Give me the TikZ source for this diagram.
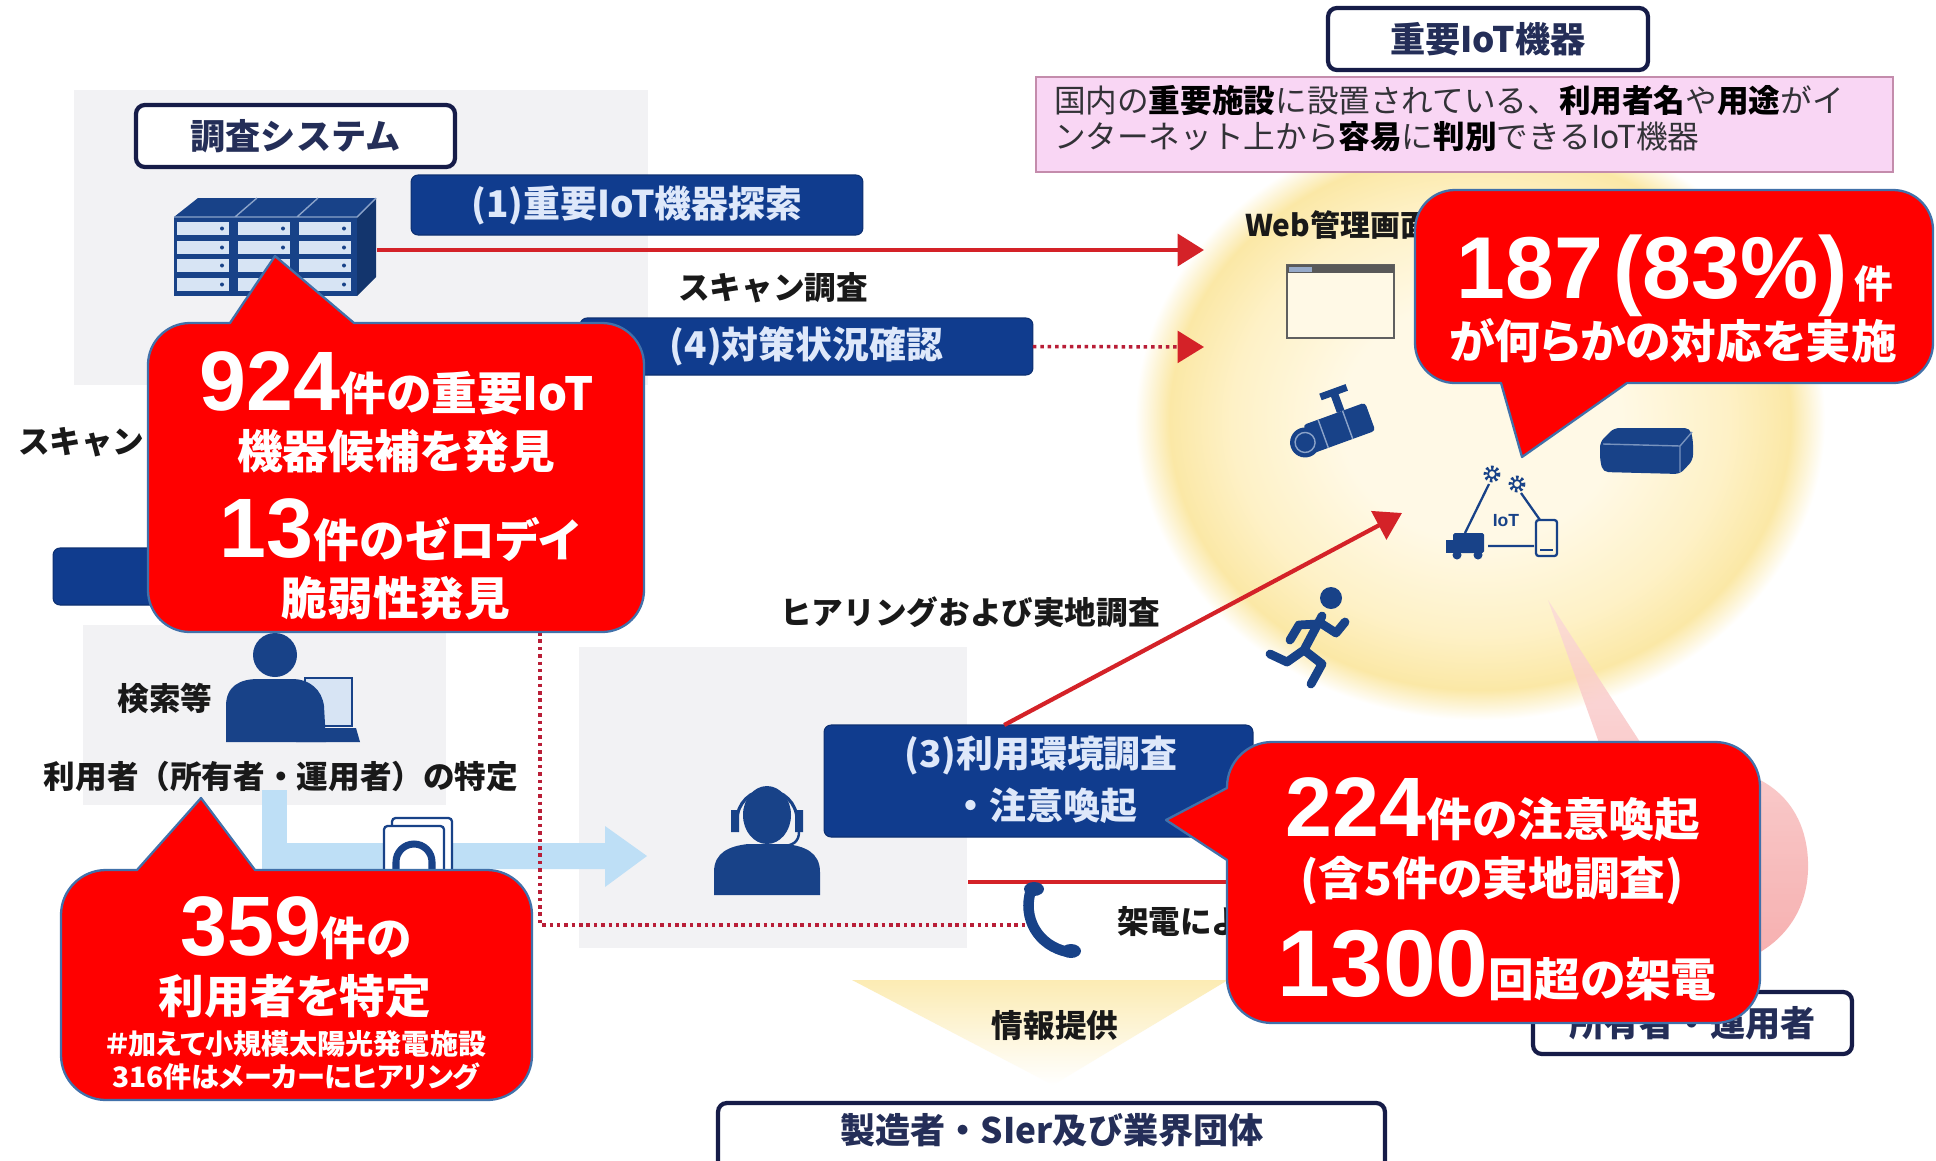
\documentclass[tikz,border=0pt]{standalone}
\usepackage{fontspec}
\usetikzlibrary{arrows.meta,calc}
\newfontfamily\jp{Noto Sans CJK JP}
\newfontfamily\jpp[RawFeature=+palt]{Noto Sans CJK JP}
\newfontfamily\lat{Liberation Sans}
\newcommand\setfs[1]{\fontsize{#1}{#1}\selectfont}

\definecolor{iconblue}{RGB}{24,66,136}
\definecolor{drawerblue}{RGB}{215,228,244}
\definecolor{boxblue}{RGB}{16,60,142}
\definecolor{boxtext}{RGB}{222,232,250}
\definecolor{navyline}{RGB}{22,28,72}
\definecolor{navytext}{RGB}{36,46,88}
\definecolor{labeltext}{RGB}{25,25,25}
\definecolor{desctext}{RGB}{50,50,55}
\definecolor{panelgray}{RGB}{242,242,244}
\definecolor{callred}{RGB}{255,0,0}
\definecolor{callline}{RGB}{65,113,170}
\definecolor{arrowred}{RGB}{212,34,40}
\definecolor{dotred}{RGB}{185,30,55}
\definecolor{skyblue}{RGB}{190,223,246}
\definecolor{pinkfill}{RGB}{249,214,244}
\definecolor{pinkline}{RGB}{196,140,172}
\definecolor{glowc}{RGB}{255,249,230}
\definecolor{glowm}{RGB}{254,241,198}
\definecolor{glowe}{RGB}{251,232,166}
\definecolor{conered}{RGB}{244,150,150}

\pgfdeclareradialshading{glow}{\pgfpoint{0bp}{0bp}}{color(0bp)=(glowc); color(10bp)=(glowc); color(18bp)=(glowm); color(22.5bp)=(glowe); color(25bp)=(white); color(50bp)=(white)}

\begin{document}
\begin{tikzpicture}[x=0.02cm, y=-0.02cm,
  every node/.style={inner sep=0pt, outer sep=0pt},
  titlebox/.style={draw=navyline, line width=2.4pt, fill=white, rounded corners=5pt,
    font=\jp\bfseries\setfs{20}, text=navytext},
  stagebox/.style={fill=boxblue, draw=boxblue!80!black, line width=0.6pt, rounded corners=4pt,
    font=\jp\bfseries\setfs{21}, text=boxtext},
  stagetext/.style={font=\jp\bfseries\setfs{21}, text=boxtext},
  plain/.style={font=\jp\bfseries\setfs{18}, text=labeltext},
  callout/.style={fill=callred, draw=callline, line width=1.3pt, line join=round},
  ctext/.style={text=white, anchor=base},
  redline/.style={draw=arrowred, line width=2.6pt},
  redtip/.style={-{Triangle[length=15pt,width=18pt,color=arrowred]}},
  dotline/.style={draw=dotred, line width=2pt, dash pattern=on 2pt off 2.2pt},
]
\useasboundingbox (0,0) rectangle (1936,1160);
\fill[white] (0,0) rectangle (1936,1160);

% ---------- soft backgrounds ----------
\shade[shading=glow] (1480,420) ellipse [x radius=345, y radius=300];
\shade[top color=conered!35, bottom color=conered, opacity=0.8]
  (1548,600) -- (1598,740) -- (1618,950) .. controls (1700,995) and (1805,960) .. (1808,870)
  .. controls (1810,800) and (1760,765) .. (1700,768) -- (1640,742) -- cycle;
\fill[panelgray] (74,90) rectangle (648,385);
\fill[panelgray] (83,625) rectangle (446,805);
\fill[panelgray] (579,647) rectangle (967,948);
\shade[top color=glowe!85, bottom color=white] (852,980) -- (1228,980) -- (1053,1085) -- cycle;

% light blue flow arrow
\fill[skyblue] (262,790) rectangle (287,869);
\fill[skyblue] (262,843) -- (605,843) -- (605,826) -- (647,856) -- (605,887) -- (605,869) -- (262,869) -- cycle;

% ---------- boxes ----------
\node[draw=pinkline, fill=pinkfill, line width=1.2pt, minimum width=17.14cm, minimum height=1.9cm] (desc) at (1464.5,124.5) {};
\node[anchor=base west, font=\jp\setfs{18}, text=desctext] (desc1) at (1054,112)
  {国内の{\bfseries\color{black}重要施設}に設置されている、{\bfseries\color{black}利用者名}や{\bfseries\color{black}用途}がイ};
\node[anchor=base west, font=\jp\setfs{18}, text=desctext] (desc2) at (1054,148)
  {ンターネット上から{\bfseries\color{black}容易}に{\bfseries\color{black}判別}できるIoT機器};

\node[titlebox, minimum width=6.38cm, minimum height=1.24cm] (sys) at (295.5,136) {調査システム};
\node[titlebox, minimum width=6.4cm, minimum height=1.24cm] (iot) at (1488,39) {重要IoT機器};
\node[titlebox, minimum width=6.38cm, minimum height=1.24cm] (owner) at (1692.5,1023) {所有者・運用者};
\node[titlebox, minimum width=13.34cm, minimum height=1.34cm] (maker) at (1051.5,1136.5) {};
\node[font=\jp\bfseries\setfs{20}, text=navytext] (makertxt) at (1052,1130) {製造者・SIer及び業界団体};

\node[stagebox, minimum width=9.04cm, minimum height=1.2cm] (s1) at (637,205) {(1)重要IoT機器探索};
\node[stagebox, minimum width=9.06cm, minimum height=1.14cm] (s4) at (806.5,346.5) {(4)対策状況確認};
\node[stagebox, minimum width=7.54cm, minimum height=1.14cm] (s2) at (241.5,576.5) {};
\node[stagebox, minimum width=8.58cm, minimum height=2.24cm] (s3) at (1038.5,781) {};
\node[stagetext] (s3a) at (1041,755) {(3)利用環境調査};
\node[stagetext] (s3b) at (1045,806) {・注意喚起};

% ---------- icons ----------
% server rack
\fill[iconblue] (174,217) -- (198,198) -- (376,198) -- (357,217) -- cycle;
\fill[iconblue!80!black] (357,217) -- (376,198) -- (376,277) -- (357,296) -- cycle;
\fill[iconblue] (174,217) rectangle (357,296);
\draw[drawerblue!60!iconblue, line width=0.8pt] (235,217) -- (257,198) (297,217) -- (318,198) (174,217) -- (357,217) -- (376,198);
\foreach \cx in {177,238,299}{
  \foreach \dy in {222,241,259,278}{
    \fill[drawerblue] (\cx,\dy) rectangle ++(52,13);
    \fill[iconblue] (\cx+45,\dy+6.5) circle (2);
  }
}
\coordinate (srv) at (377,250);

% person at a laptop
\filldraw[fill=drawerblue, draw=iconblue, line width=1.6pt] (305,678) rectangle (352,726);
\fill[iconblue] (275,655) circle (22);
\fill[iconblue] (226,742) -- (226,706) .. controls (226,686) and (240,679) .. (258,679) -- (292,679)
  .. controls (310,679) and (322,690) .. (324,706) -- (326,742) -- cycle;
\fill[iconblue] (300,728) -- (356,728) -- (360,742) -- (296,742) -- cycle;

% document
\filldraw[fill=white, draw=iconblue, line width=1.3pt, rounded corners=2pt] (392,818) rectangle (452,900);
\filldraw[fill=white, draw=iconblue, line width=1.3pt, rounded corners=2pt] (384,826) rectangle (444,900);
\draw[iconblue, line width=4pt] (396,880) -- (396,862) arc[start angle=180, end angle=360, radius=18] -- (432,880);

% operator with headset
\fill[iconblue] (767,815) ellipse [x radius=24, y radius=29];
\draw[iconblue, line width=1.8pt] (737,820) arc[start angle=180, end angle=360, radius=30];
\fill[iconblue] (731,810) rectangle (739,832) (795,810) rectangle (803,832);
\draw[iconblue, line width=1.4pt] (799,832) .. controls (799,842) and (792,846) .. (782,846);
\fill[iconblue] (714,895) -- (714,872) .. controls (714,852) and (730,846) .. (748,844) -- (786,844)
  .. controls (804,846) and (820,852) .. (820,872) -- (820,895) -- cycle;

% web admin screen
\filldraw[fill=glowc, draw=gray!75!black, line width=1.2pt] (1287,265) rectangle (1394,338);
\fill[gray!70!black] (1287,265) rectangle (1394,273);
\fill[iconblue!45] (1289,266.5) rectangle (1312,271.5);

% camera
\begin{scope}[shift={(1336,428)}, rotate=20]
  \fill[iconblue] (6,-14) rectangle (14,-32);
  \fill[iconblue] (-4,-38) rectangle (24,-31);
  \fill[iconblue, rounded corners=2pt] (-30,-14) rectangle (36,16);
  \fill[iconblue] (-34,3) circle (15);
  \draw[drawerblue!60!iconblue, line width=0.8pt] (-34,3) circle (10) (-14,-14) -- (-14,16) (12,-14) -- (12,16);
\end{scope}

% router
\fill[iconblue, rounded corners=3pt] (1600,442) -- (1614,428) -- (1690,428) -- (1693,440) -- (1693,460)
  -- (1680,474) -- (1603,472) -- (1600,460) -- cycle;
\draw[drawerblue!50!iconblue, line width=0.8pt] (1603,444) -- (1680,446) -- (1692,432) (1680,446) -- (1680,472);

% IoT cluster icon
\draw[iconblue, line width=1.3pt] (1489,484) -- (1465,533) (1521,493) -- (1540,520) (1488,546) -- (1534,546);
\draw[iconblue, line width=2.2pt, dash pattern=on 1.4pt off 1.4pt] (1492,474) circle (6.5) (1517,484) circle (6.5);
\draw[iconblue, line width=1pt] (1492,474) circle (4) (1517,484) circle (4);
\node[font=\lat\bfseries\setfs{10}, text=iconblue] (iotlbl) at (1506,521) {IoT};
\fill[iconblue, rounded corners=1pt] (1453,533) rectangle (1484,553);
\fill[iconblue] (1446,540) rectangle (1455,553);
\fill[iconblue] (1457,555) circle (4.5) (1478,555) circle (4.5);
\draw[iconblue, line width=1.3pt, rounded corners=1.5pt] (1536,520) rectangle (1557,556);
\draw[iconblue, line width=1pt] (1540,550) -- (1553,550);
\coordinate (iotin) at (1402,513);

% running person
\fill[iconblue] (1331,598) circle (11);
\draw[iconblue, line width=5pt, line cap=round, line join=round]
  (1322,616) -- (1304,650)
  (1319,622) -- (1336,633) -- (1345,622)
  (1317,624) -- (1299,625) -- (1290,640)
  (1304,650) -- (1322,664) -- (1311,684)
  (1304,650) -- (1287,662) -- (1270,654);

% ---------- plain labels ----------
\node[plain] (scanlbl) at (773,288) {スキャン調査};
\node[plain] (hearlbl) at (970,612) {ヒアリングおよび実地調査};
\node[plain, anchor=west] (scanleft) at (18,442) {スキャン};
\node[plain] (searchlbl) at (165,698) {検索等};
\node[plain] (userlbl) at (281,776) {利用者（所有者・運用者）の特定};
\node[plain] (infolbl) at (1055,1025) {情報提供};
\node[plain, anchor=west] (webadm) at (1245,225) {\setfs{17}Web管理画面};

% ---------- connectors ----------
\coordinate (webin) at (1204,250);
\coordinate (chkin) at (1204,347);
\draw[redline, redtip] (srv) -- (webin);
\draw[dotline, redtip] (s4.east) -- (chkin);
\draw[redline, line width=2.4pt, redtip] ($(s3.north west)!0.42!(s3.north east)$) -- (iotin);
\coordinate (callA) at (968,882);
\coordinate (callB) at (1240,882);
\draw[redline] (callA) -- (callB);
\coordinate (dotA) at (540,632);
\coordinate (dotB) at (540,925);
\coordinate (dotC) at (1026,925);
\draw[dotline, line width=1.8pt] (dotA) -- (dotB) -- (dotC);

% phone handset
\draw[iconblue, line width=6pt, line cap=round] (1031,890) .. controls (1022,918) and (1038,946) .. (1068,952);
\fill[iconblue] (1034,889) ellipse [x radius=10, y radius=7];
\fill[iconblue] (1071,951) ellipse [x radius=10, y radius=7];
\node[plain, anchor=west] (calllbl) at (1117,921) {架電による};

% ---------- red callouts ----------
\filldraw[callout] (190,323) -- (230,323) -- (275,256) -- (354,323) -- (602,323)
  arc[start angle=270, end angle=360, radius=42] -- (644,590)
  arc[start angle=0, end angle=90, radius=42] -- (190,632)
  arc[start angle=90, end angle=180, radius=42] -- (148,365)
  arc[start angle=180, end angle=270, radius=42] -- cycle;
\node[ctext] (c1a) at (397,410) {{\lat\bfseries\setfs{48}924}{\jpp\bfseries\setfs{26}件の重要IoT}};
\node[ctext] (c1b) at (396,468) {\jpp\bfseries\setfs{26}機器候補を発見};
\node[ctext] (c1c) at (400,557) {{\lat\bfseries\setfs{48}13}{\jpp\bfseries\setfs{26}件のゼロデイ}};
\node[ctext] (c1d) at (396,615) {\jpp\bfseries\setfs{26}脆弱性発見};

\filldraw[callout] (1455,190) -- (1893,190)
  arc[start angle=270, end angle=360, radius=40] -- (1933,343)
  arc[start angle=0, end angle=90, radius=40] -- (1627,383) -- (1522,457) -- (1501,383) -- (1455,383)
  arc[start angle=90, end angle=180, radius=40] -- (1415,230)
  arc[start angle=180, end angle=270, radius=40] -- cycle;
\node[ctext] (c2a) at (1675,298) {{\lat\bfseries\setfs{50}187\hspace{6pt}(83\%)\hspace{4pt}}{\jpp\bfseries\setfs{22}件}};
\node[ctext] (c2b) at (1673,358) {\jpp\bfseries\setfs{26}が何らかの対応を実施};

\filldraw[callout] (1272,742) -- (1715,742)
  arc[start angle=270, end angle=360, radius=45] -- (1760,978)
  arc[start angle=0, end angle=90, radius=45] -- (1272,1023)
  arc[start angle=90, end angle=180, radius=45] -- (1227,860) -- (1166,820) -- (1227,788) -- (1227,787)
  arc[start angle=180, end angle=270, radius=45] -- cycle;
\node[ctext] (c3a) at (1493,836) {{\lat\bfseries\setfs{48}224}{\jpp\bfseries\setfs{26}件の注意喚起}};
\node[ctext] (c3b) at (1492,895) {\jpp\bfseries\setfs{26}(含5件の実地調査)};
\node[ctext] (c3c) at (1497,996) {{\lat\bfseries\setfs{54}1300}{\jpp\bfseries\setfs{26}回超の架電}};

\filldraw[callout] (106,870) -- (137,870) -- (201,798) -- (255,870) -- (487,870)
  arc[start angle=270, end angle=360, radius=45] -- (532,1055)
  arc[start angle=0, end angle=90, radius=45] -- (106,1100)
  arc[start angle=90, end angle=180, radius=45] -- (61,915)
  arc[start angle=180, end angle=270, radius=45] -- cycle;
\node[ctext] (c4a) at (296,955) {{\lat\bfseries\setfs{48}359}{\jpp\bfseries\setfs{26}件の}};
\node[ctext] (c4b) at (295,1013) {\jpp\bfseries\setfs{26}利用者を特定};
\node[ctext] (c4c) at (296,1054) {\jpp\bfseries\setfs{16}＃加えて小規模太陽光発電施設};
\node[ctext] (c4d) at (296,1087) {\jpp\bfseries\setfs{16}316件はメーカーにヒアリング};
\end{tikzpicture}
\end{document}
